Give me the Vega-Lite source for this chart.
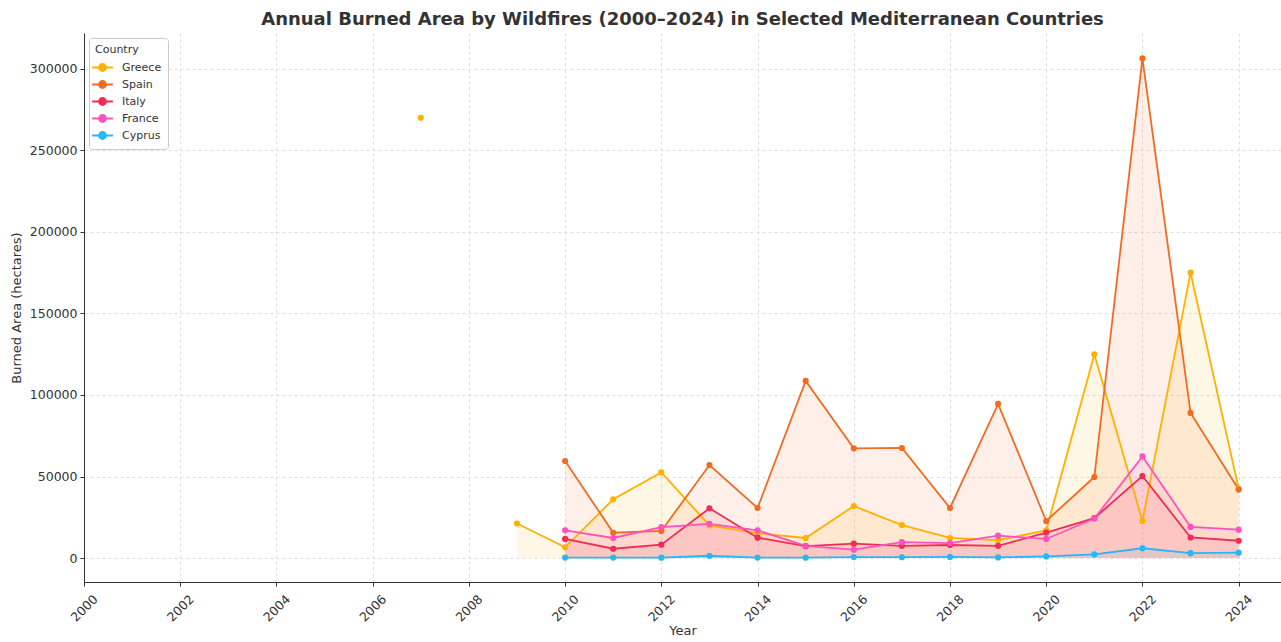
{
  "$schema": "https://vega.github.io/schema/vega-lite/v6.json",
  "autosize": {"type": "none"},
  "padding": {"left": 84, "top": 33, "right": 0, "bottom": 60},
  "width": 1197,
  "height": 549,
  "background": "white",
  "title": {
    "text": "Annual Burned Area by Wildfires (2000–2024) in Selected Mediterranean Countries",
    "font": "DejaVu Sans",
    "fontSize": 18,
    "fontWeight": "bold",
    "color": "#333333",
    "offset": 4,
    "anchor": "middle"
  },
  "config": {
    "view": {"stroke": null},
    "font": "DejaVu Sans",
    "axis": {
      "labelFont": "DejaVu Sans",
      "titleFont": "DejaVu Sans",
      "labelFontSize": 12.5,
      "titleFontSize": 13,
      "titleFontWeight": "normal",
      "labelColor": "#333333",
      "titleColor": "#333333",
      "domainColor": "#333333",
      "tickColor": "#333333",
      "tickSize": 4,
      "gridColor": "#d6d6d6",
      "gridDash": [3, 3],
      "gridWidth": 0.8
    }
  },
  "data": {
    "values": [
      {"year": 2007, "country": "Greece", "area": 270000},
      {"year": 2008, "country": "Greece", "area": null},
      {"year": 2009, "country": "Greece", "area": 21200},
      {"year": 2010, "country": "Greece", "area": 6600},
      {"year": 2011, "country": "Greece", "area": 36000},
      {"year": 2012, "country": "Greece", "area": 52500},
      {"year": 2013, "country": "Greece", "area": 20000},
      {"year": 2014, "country": "Greece", "area": 15300},
      {"year": 2015, "country": "Greece", "area": 12300},
      {"year": 2016, "country": "Greece", "area": 31900},
      {"year": 2017, "country": "Greece", "area": 20200},
      {"year": 2018, "country": "Greece", "area": 12300},
      {"year": 2019, "country": "Greece", "area": 11000},
      {"year": 2020, "country": "Greece", "area": 17000},
      {"year": 2021, "country": "Greece", "area": 125000},
      {"year": 2022, "country": "Greece", "area": 22700},
      {"year": 2023, "country": "Greece", "area": 175000},
      {"year": 2024, "country": "Greece", "area": 42500},
      {"year": 2010, "country": "Spain", "area": 59500},
      {"year": 2011, "country": "Spain", "area": 15500},
      {"year": 2012, "country": "Spain", "area": 16600},
      {"year": 2013, "country": "Spain", "area": 57000},
      {"year": 2014, "country": "Spain", "area": 30700},
      {"year": 2015, "country": "Spain", "area": 108600},
      {"year": 2016, "country": "Spain", "area": 67300},
      {"year": 2017, "country": "Spain", "area": 67500},
      {"year": 2018, "country": "Spain", "area": 30700},
      {"year": 2019, "country": "Spain", "area": 94500},
      {"year": 2020, "country": "Spain", "area": 22700},
      {"year": 2021, "country": "Spain", "area": 49700},
      {"year": 2022, "country": "Spain", "area": 306400},
      {"year": 2023, "country": "Spain", "area": 89000},
      {"year": 2024, "country": "Spain", "area": 42000},
      {"year": 2010, "country": "Italy", "area": 11700},
      {"year": 2011, "country": "Italy", "area": 5700},
      {"year": 2012, "country": "Italy", "area": 8200},
      {"year": 2013, "country": "Italy", "area": 30500},
      {"year": 2014, "country": "Italy", "area": 12500},
      {"year": 2015, "country": "Italy", "area": 7300},
      {"year": 2016, "country": "Italy", "area": 8800},
      {"year": 2017, "country": "Italy", "area": 7500},
      {"year": 2018, "country": "Italy", "area": 8000},
      {"year": 2019, "country": "Italy", "area": 7500},
      {"year": 2020, "country": "Italy", "area": 15600},
      {"year": 2021, "country": "Italy", "area": 24500},
      {"year": 2022, "country": "Italy", "area": 50300},
      {"year": 2023, "country": "Italy", "area": 12600},
      {"year": 2024, "country": "Italy", "area": 10600},
      {"year": 2010, "country": "France", "area": 17000},
      {"year": 2011, "country": "France", "area": 12300},
      {"year": 2012, "country": "France", "area": 19000},
      {"year": 2013, "country": "France", "area": 21000},
      {"year": 2014, "country": "France", "area": 17000},
      {"year": 2015, "country": "France", "area": 7500},
      {"year": 2016, "country": "France", "area": 5100},
      {"year": 2017, "country": "France", "area": 9800},
      {"year": 2018, "country": "France", "area": 9200},
      {"year": 2019, "country": "France", "area": 13700},
      {"year": 2020, "country": "France", "area": 11700},
      {"year": 2021, "country": "France", "area": 24200},
      {"year": 2022, "country": "France", "area": 62300},
      {"year": 2023, "country": "France", "area": 19100},
      {"year": 2024, "country": "France", "area": 17400},
      {"year": 2010, "country": "Cyprus", "area": 300},
      {"year": 2011, "country": "Cyprus", "area": 300},
      {"year": 2012, "country": "Cyprus", "area": 200},
      {"year": 2013, "country": "Cyprus", "area": 1400},
      {"year": 2014, "country": "Cyprus", "area": 300},
      {"year": 2015, "country": "Cyprus", "area": 200},
      {"year": 2016, "country": "Cyprus", "area": 600},
      {"year": 2017, "country": "Cyprus", "area": 500},
      {"year": 2018, "country": "Cyprus", "area": 700},
      {"year": 2019, "country": "Cyprus", "area": 400},
      {"year": 2020, "country": "Cyprus", "area": 1000},
      {"year": 2021, "country": "Cyprus", "area": 2200},
      {"year": 2022, "country": "Cyprus", "area": 6000},
      {"year": 2023, "country": "Cyprus", "area": 3000},
      {"year": 2024, "country": "Cyprus", "area": 3300}
    ]
  },
  "encoding": {
    "x": {
      "field": "year",
      "type": "quantitative",
      "scale": {"domain": [2000, 2024.88], "nice": false, "zero": false},
      "axis": {
        "title": "Year",
        "values": [2000, 2002, 2004, 2006, 2008, 2010, 2012, 2014, 2016, 2018, 2020, 2022, 2024],
        "format": "d",
        "labelAngle": -45,
        "labelAlign": "center",
        "labelBaseline": "middle",
        "labelPadding": 22,
        "titlePadding": 1,
        "grid": true
      }
    },
    "y": {
      "field": "area",
      "type": "quantitative",
      "stack": null,
      "scale": {"domain": [-14700, 322000], "nice": false, "zero": false},
      "axis": {
        "title": "Burned Area (hectares)",
        "values": [0, 50000, 100000, 150000, 200000, 250000, 300000],
        "format": "d",
        "labelPadding": 3,
        "titlePadding": 6,
        "grid": true
      }
    },
    "color": {
      "field": "country",
      "type": "nominal",
      "scale": {
        "domain": ["Greece", "Spain", "Italy", "France", "Cyprus"],
        "range": ["#FFB000", "#F26B22", "#EF2D56", "#FF52BE", "#29B6F6"]
      },
      "legend": {
        "title": "Country",
        "orient": "top-left",
        "offset": 5,
        "titleFont": "DejaVu Sans",
        "titleFontSize": 11,
        "titleFontWeight": "normal",
        "titleColor": "#333333",
        "labelFont": "DejaVu Sans",
        "labelFontSize": 11,
        "labelColor": "#333333",
        "fillColor": "white",
        "strokeColor": "#cccccc",
        "cornerRadius": 3,
        "padding": 6,
        "rowPadding": 2,
        "titlePadding": 5,
        "labelOffset": 12,
        "symbolType": "M-1.6,0L1.6,0M0.54,0A0.54,0.54,0,1,1,-0.54,0A0.54,0.54,0,1,1,0.54,0Z",
        "symbolSize": 169,
        "symbolStrokeWidth": 1.8,
        "encode": {
          "symbols": {
            "update": {
              "fill": {"scale": "color", "field": "value"},
              "stroke": {"scale": "color", "field": "value"},
              "fillOpacity": {"value": 1},
              "opacity": {"value": 1}
            }
          }
        }
      }
    }
  },
  "layer": [
    {
      "mark": {"type": "area", "opacity": 0.1},
      "encoding": {"y2": {"datum": 0}}
    },
    {
      "mark": {"type": "line", "strokeWidth": 1.8}
    },
    {
      "mark": {"type": "point", "filled": true, "opacity": 1, "size": 38}
    }
  ]
}
